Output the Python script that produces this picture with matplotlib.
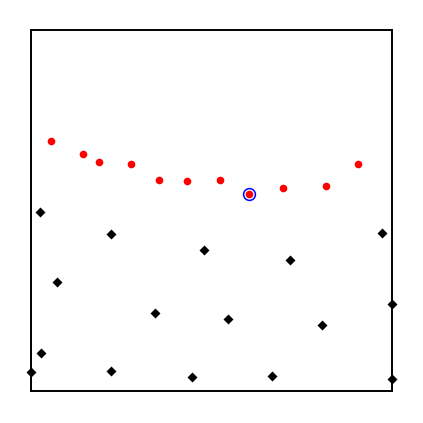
import matplotlib
matplotlib.use('Agg')
import matplotlib.pyplot as plt

# red points
red_x = [5.5, 14.4, 18.9, 27.8, 35.5, 43.1, 52.3, 60.4, 69.9, 81.8, 90.7]
red_y = [69.3, 65.7, 63.3, 62.8, 58.4, 58.3, 58.4, 54.6, 56.2, 56.7, 62.8]

# black diamonds
blk_x = [2.6, 22.2, 47.8, 71.8, 97.1, 7.1, 34.3, 54.6, 80.7, 100.0,
         2.8, 0.0, 22.2, 44.5, 66.7, 100.0]
blk_y = [49.6, 43.5, 39.0, 36.4, 43.9, 30.2, 21.5, 19.9, 18.3, 24.1,
         10.6, 5.3, 5.6, 4.0, 4.1, 3.4]

# highlighted point
hi_x = [60.4]
hi_y = [54.6]

fig = plt.figure(figsize=(4.23, 4.23), dpi=100)
ax = fig.add_axes([31/423, 32/423, 361/423, 361/423])

ax.plot(red_x, red_y, 'o', color='red', ms=5.5, mec='none', clip_on=False)
ax.plot(blk_x, blk_y, 'D', color='black', ms=5.2, mec='none', clip_on=False)
ax.plot(hi_x, hi_y, 'o', mfc='none', mec='blue', ms=8.5, mew=1.1, clip_on=False)

ax.set_xlim(0, 100)
ax.set_ylim(0, 100)
ax.set_xticks([])
ax.set_yticks([])
for s in ax.spines.values():
    s.set_linewidth(1.4)
    s.set_color('black')

fig.savefig('out.png', dpi=100)
